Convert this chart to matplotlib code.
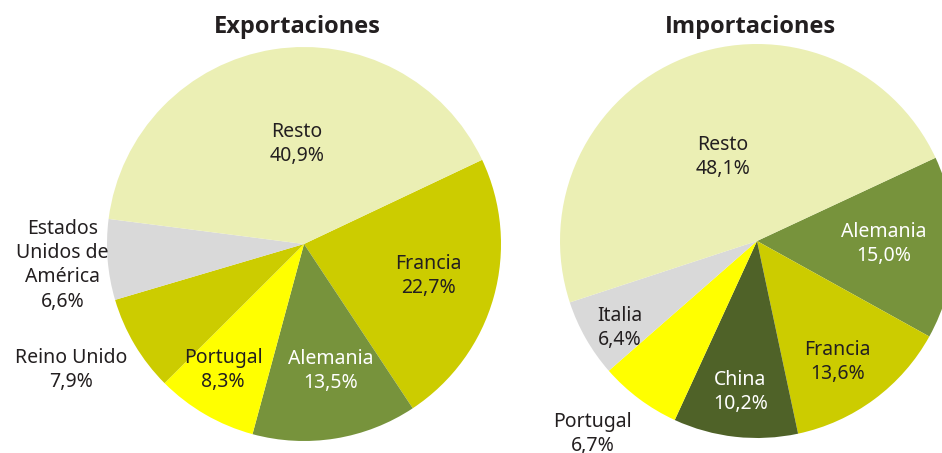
import numpy as np
import matplotlib.pyplot as plt

plt.rcParams['font.family'] = ['Noto Sans', 'DejaVu Sans']

# ---------------- datos ----------------
exp_labels = ["Francia", "Alemania", "Portugal", "Reino Unido", "Estados\nUnidos de\nAmérica", "Resto"]
exp_values = [22.7, 13.5, 8.3, 7.9, 6.6, 40.9]

imp_labels = ["Alemania", "Francia", "China", "Portugal", "Italia", "Resto"]
imp_values = [15.0, 13.6, 10.2, 6.7, 6.4, 48.1]

# ---------------- estilo ----------------
c_resto = "#EBEFB4"
c_fr = "#CCCC00"
c_al = "#77933C"
c_pt = "#FFFF00"
c_gr = "#D9D9D9"
c_cn = "#4F6228"
txt = "#231F20"

exp_colors = [c_fr, c_al, c_pt, c_fr, c_gr, c_resto]
imp_colors = [c_al, c_fr, c_cn, c_pt, c_gr, c_resto]

exp_txtcol = [txt, "white", txt, txt, txt, txt]
imp_txtcol = ["white", txt, "white", txt, txt, txt]

# distancia radial (fraccion del radio) y desplazamiento angular de cada etiqueta
exp_dist = [0.65, 0.65, 0.75, 1.34, 1.23, 0.52]
exp_dang = [2, 3, -3, -2.6, 0, -5]
imp_dist = [0.645, 0.73, 0.76, 1.28, 0.82, 0.47]
imp_dang = [1.5, -2.5, 0, -4, 2, 0]

fig = plt.figure(figsize=(9.42, 4.53), dpi=100)
ax = fig.add_axes([0, 0, 1, 1])

R = 197


def tarta(values, colors, labels, tcol, dist, dang, center, start, title):
    wedges, _ = ax.pie(values, colors=colors, startangle=start, counterclock=False,
                       center=center, radius=R, wedgeprops=dict(linewidth=0))
    for w, lab, v, c, d, da in zip(wedges, labels, values, tcol, dist, dang):
        ang = np.deg2rad((w.theta1 + w.theta2) / 2 + da)
        x = center[0] + d * R * np.cos(ang)
        y = center[1] - 2 + d * R * np.sin(ang)
        s = f"{lab}\n{v:.1f}%".replace(".", ",")
        ax.text(x, y, s, ha="center", va="center", color=c, fontsize=14,
                linespacing=1.28, multialignment="center")
    ax.text(center[0] - 7, 426, title, ha="center", va="center", fontsize=17,
            fontweight="bold", color=txt, family=["Open Sans", "DejaVu Sans"])


tarta(exp_values, exp_colors, exp_labels, exp_txtcol, exp_dist, exp_dang,
      (304, 209), 25.3, "Exportaciones")
tarta(imp_values, imp_colors, imp_labels, imp_txtcol, imp_dist, imp_dang,
      (757, 212), 25.0, "Importaciones")

ax.set_xlim(0, 942)
ax.set_ylim(0, 453)
ax.set_aspect("equal")
ax.axis("off")

plt.savefig("out.png", dpi=100)
